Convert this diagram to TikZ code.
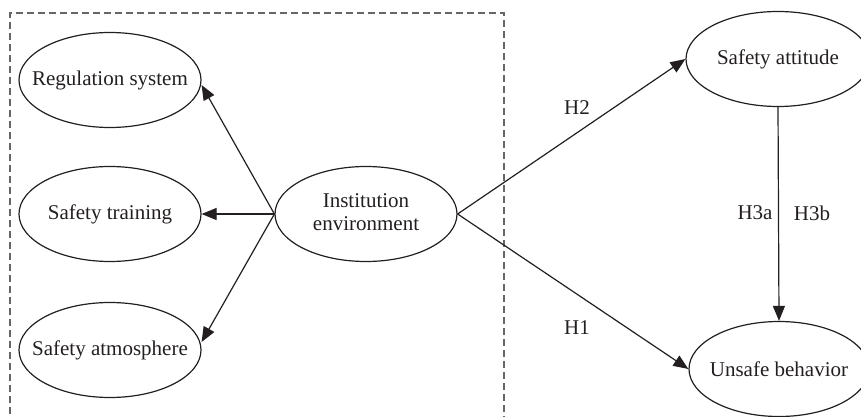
\documentclass[tikz,border=0pt]{standalone}
\usepackage{fontspec}
\setmainfont{Liberation Serif}
\usetikzlibrary{shapes.geometric,arrows.meta}
\definecolor{ink}{HTML}{231F20}
\newcommand{\zw}[1]{\makebox[0pt]{#1}}
\begin{document}
\begin{tikzpicture}[x=1pt,y=-1pt,
  ell/.style={draw=ink,line width=1.2pt,ellipse,inner sep=0pt,minimum width=182pt,minimum height=95pt,text=ink,font=\fontsize{21}{24}\selectfont},
  arr/.style={draw=ink,line width=1.2pt,-{Triangle[length=15pt,width=12pt]}},
  lab/.style={text=ink,font=\fontsize{21}{24}\selectfont,inner sep=0pt}]
\clip (0,0) rectangle (861,417);
\draw[gray!80!black,line width=1.1pt,dash pattern=on 7pt off 4pt] (10,425) -- (10,13) -- (504,13) -- (504,425);
\node[ell] (rs) at (110,80) {\zw{Regulation system}};
\node[ell] (st) at (110,214) {\zw{Safety training}};
\node[ell] (sa) at (110,350) {\zw{Safety atmosphere}};
\node[ell] (ie) at (366,214) {\zw{\begin{tabular}{@{}c@{}}Institution\\[-1pt]environment\end{tabular}}};
\node[ell,minimum width=184pt] (att) at (778,59) {\zw{Safety attitude}};
\node[ell,minimum width=180pt] (ub) at (779,369) {\zw{Unsafe behavior}};
\draw[arr] (ie.west) -- ([yshift=-5pt]rs.east);
\draw[arr] (ie.west) -- (st.east);
\draw[arr] (ie.west) -- ([yshift=8pt]sa.east);
\draw[arr] (ie.east) -- (att.west);
\draw[arr] (ie.east) -- (ub.west);
\draw[arr] (att.south) -- (ub.north);
\node[lab] (h2) at (577,108) {H2};
\node[lab] (h1) at (577,328) {H1};
\node[lab] (h3a) at (755,213) {H3a};
\node[lab] (h3b) at (812,213) {H3b};
\end{tikzpicture}
\end{document}
